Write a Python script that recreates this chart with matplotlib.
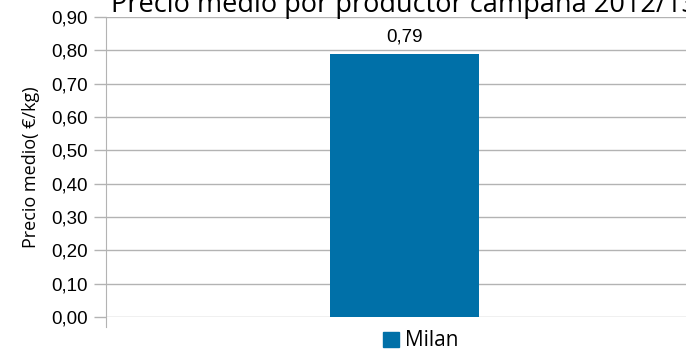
import numpy as np
import matplotlib.pyplot as plt
from matplotlib.patches import Patch

# Data
categories = ['Milan']
values = [0.79]
value_labels = ['0,79']
yticks = [0.0, 0.1, 0.2, 0.3, 0.4, 0.5, 0.6, 0.7, 0.8, 0.9]
ytick_labels = ['0,00', '0,10', '0,20', '0,30', '0,40', '0,50', '0,60', '0,70', '0,80', '0,90']

W, H = 686, 356
fig = plt.figure(figsize=(W / 100, H / 100), dpi=100)

# axes runs past the right edge of the picture (chart was cropped)
left, right, top, bottom = 106, 703, 17, 317
ax = fig.add_axes([left / W, (H - bottom) / H, (right - left) / W, (bottom - top) / H])

bar_color = '#0070a8'
x = np.arange(len(categories))
bars = ax.bar(x, values, width=0.25, color=bar_color)
ax.set_xlim(-0.5, 0.5)
ax.set_ylim(0, 0.9)

for b, lab in zip(bars, value_labels):
    ax.text(b.get_x() + b.get_width() / 2, b.get_height() + 0.025, lab,
            ha='center', va='bottom', fontsize=13.5, family='Liberation Sans')

ax.set_yticks(yticks)
ax.set_yticklabels(ytick_labels, fontsize=13.5, family='Liberation Sans')
ax.set_xticks([])
ax.yaxis.grid(True, color='#b3b3b3', linewidth=1)
ax.set_axisbelow(True)
ax.tick_params(axis='y', length=9, color='#b3b3b3', width=1, pad=4)
for s in ['top', 'right', 'bottom']:
    ax.spines[s].set_visible(False)
ax.spines['left'].set_color('#b3b3b3')
ax.spines['left'].set_bounds(-0.03, 0.9)

ax.set_ylabel('Precio medio( €/kg)', fontsize=13, family='Open Sans', labelpad=8)

# title is partly cut off at the top in the original
fig.text(404 / W, 1 - 12 / H, 'Precio medio por productor campaña 2012/13',
         ha='center', va='baseline', fontsize=19.5, family='Open Sans')

fig.legend(handles=[Patch(color=bar_color)], labels=categories,
           loc='center', bbox_to_anchor=(421 / W, 1 - 341 / H), frameon=False,
           handlelength=0.75, handleheight=0.75, handletextpad=0.3,
           prop={'family': 'Open Sans', 'size': 15})

fig.savefig('out.png', dpi=100)
